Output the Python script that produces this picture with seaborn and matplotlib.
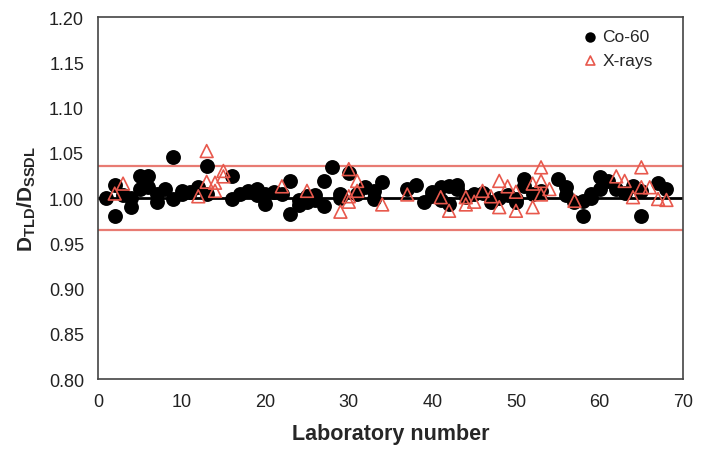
import numpy as np
import pandas as pd
import matplotlib
matplotlib.use("Agg")
import matplotlib.pyplot as plt
import seaborn as sns

# Co-60 results: laboratory number and dose ratio
co_lab = [1, 2, 2, 3, 4, 4, 5, 5, 6, 6, 7, 7, 8, 9, 9, 10, 10, 11, 12, 13, 13,
          16, 16, 17, 18, 19, 19, 20, 20, 21, 22, 23, 23, 24, 24, 25, 25, 26, 26,
          27, 27, 28, 29, 29, 30, 31, 32, 33, 33, 34, 37, 38, 39, 40, 40, 41, 41,
          42, 42, 43, 43, 44, 45, 46, 47, 48, 49, 50, 50, 51, 51, 52, 53, 55, 56,
          56, 57, 58, 58, 59, 59, 60, 60, 61, 62, 63, 64, 65, 65, 67, 68]
co_ratio = [1.000, 1.015, 0.980, 1.003, 0.990, 1.000, 1.024, 1.010, 1.024, 1.012,
            1.004, 0.996, 1.010, 1.045, 0.999, 1.004, 1.008, 1.007, 1.012, 1.035,
            1.005, 1.024, 0.999, 1.004, 1.008, 1.010, 1.003, 0.993, 1.005, 1.007,
            1.004, 1.019, 0.982, 0.998, 0.992, 0.996, 1.002, 1.003, 0.998, 1.019,
            0.991, 1.034, 1.004, 1.000, 1.028, 1.005, 1.012, 0.999, 1.008, 1.018,
            1.010, 1.015, 0.996, 1.002, 1.007, 1.012, 0.998, 1.013, 0.993, 1.010,
            1.015, 1.001, 1.004, 1.006, 0.996, 1.000, 1.003, 0.999, 0.996, 1.021,
            1.013, 1.005, 1.008, 1.021, 1.012, 1.003, 0.996, 0.997, 0.980, 1.004,
            1.000, 1.023, 1.010, 1.019, 1.010, 1.006, 1.013, 0.980, 1.008, 1.017,
            1.010]

# X-ray results
xr_lab = [2, 3, 12, 13, 13, 14, 14, 15, 15, 22, 25, 29, 30, 30, 30, 31, 31, 34,
          37, 41, 42, 44, 44, 45, 46, 47, 48, 48, 49, 50, 50, 52, 52, 53, 53, 53,
          54, 57, 62, 63, 64, 65, 65, 66, 67, 68]
xr_ratio = [1.005, 1.016, 1.002, 1.052, 1.018, 1.017, 1.008, 1.030, 1.024, 1.013,
            1.008, 0.985, 1.032, 1.002, 0.996, 1.019, 1.008, 0.993, 1.004, 1.001,
            0.986, 1.001, 0.993, 0.996, 1.008, 1.002, 1.019, 0.990, 1.013, 1.007,
            0.986, 0.990, 1.016, 1.034, 1.019, 1.004, 1.010, 0.997, 1.024, 1.019,
            1.001, 1.034, 1.012, 1.012, 0.999, 0.998]

ref_level = 1.00
limits = [0.965, 1.035]
x_range = [0, 70]

sns.set_style("white")
plt.rcParams["font.family"] = ["Liberation Sans", "DejaVu Sans"]
plt.rcParams["mathtext.fontset"] = "custom"
plt.rcParams["mathtext.rm"] = "Liberation Sans"
plt.rcParams["mathtext.bf"] = "Liberation Sans:bold"

co = pd.DataFrame({"lab": co_lab, "ratio": co_ratio})
xr = pd.DataFrame({"lab": xr_lab, "ratio": xr_ratio})

red = "#e8584c"

fig = plt.figure(figsize=(7.05, 4.52), dpi=100)
ax = fig.add_axes([0.139, 0.159, 0.830, 0.801])

ax.plot(x_range, [ref_level, ref_level], color="black", lw=2, zorder=1)
for lim in limits:
    ax.plot(x_range, [lim, lim], color="#e87b73", lw=1.6, zorder=1)

sns.scatterplot(data=co, x="lab", y="ratio", ax=ax, color="black", s=115,
                marker="o", edgecolor="black", linewidth=0, label="Co-60", zorder=2)
sns.scatterplot(data=xr, x="lab", y="ratio", ax=ax, marker="^", s=85,
                facecolor="none", edgecolor=red, linewidth=1.2,
                label="X-rays", zorder=3)

ax.set_xlim(0, 70)
ax.set_ylim(0.80, 1.20)
ax.set_xticks(np.arange(0, 71, 10))
ax.set_yticks(np.arange(0.80, 1.201, 0.05))
ax.set_yticklabels([f"{v:.2f}" for v in np.arange(0.80, 1.201, 0.05)])
ax.tick_params(axis="y", length=0, labelsize=13, colors="#222222", pad=10)
ax.tick_params(axis="x", length=0, labelsize=13, colors="#222222", pad=10)

ax.set_xlabel("Laboratory number", fontsize=15.5, fontweight="bold", labelpad=9)
ax.set_ylabel(r"$\mathbf{D}_{\mathbf{TLD}}\mathbf{/D}_{\mathbf{SSDL}}$",
              fontsize=15, labelpad=8)

for sp in ax.spines.values():
    sp.set_color("#444444")
    sp.set_linewidth(1.2)

leg = ax.legend(loc="upper right", frameon=False, fontsize=12.5, markerscale=0.7,
                handlelength=1.0, handletextpad=0.2,
                bbox_to_anchor=(0.975, 1.01), labelspacing=0.5)

fig.savefig("out.png", dpi=100)
